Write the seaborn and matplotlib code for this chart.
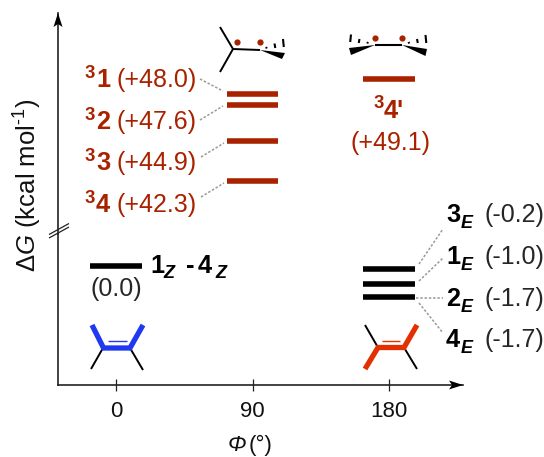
import matplotlib
matplotlib.use('Agg')
import matplotlib.pyplot as plt
import pandas as pd
import seaborn as sns

sns.set_style('white')
plt.rcParams['font.family'] = ['Liberation Sans', 'DejaVu Sans']
plt.rcParams['mathtext.fontset'] = 'custom'
plt.rcParams['mathtext.rm'] = 'Liberation Sans'
plt.rcParams['mathtext.it'] = 'Liberation Sans:italic'
plt.rcParams['mathtext.bf'] = 'Liberation Sans:bold'

# levels (kcal/mol), the axis has no scale so heights are read from the picture
triplet_phi = [90, 90, 90, 90, 180]
triplet_levels = [48.0, 47.3, 44.9, 42.2, 49.0]
ground_phi = [0, 180, 180, 180]
ground_levels = [0.0, -0.2, -1.0, -1.7]
phi_ticks = [0, 90, 180]

triplet_names = ['1', '2', '3', '4']
triplet_values = ['(+48.0)', '(+47.6)', '(+44.9)', '(+42.3)']
e_names = ['3', '1', '2', '4']
e_values = ['(-0.2)', '(-1.0)', '(-1.7)', '(-1.7)']

RED = '#a82200'
W, H = 544, 457
FS = 18


def box(left, top, right, bottom):
    return [left / W, 1 - bottom / H, (right - left) / W, (bottom - top) / H]


def levels_table(phis, levels, half=17):
    rows = []
    for i, (p, v) in enumerate(zip(phis, levels)):
        rows.append({'phi': p - half, 'dG': v, 'level': i})
        rows.append({'phi': p + half, 'dG': v, 'level': i})
    return pd.DataFrame(rows)


fig = plt.figure(figsize=(W / 100, H / 100), dpi=100)
# broken axis: two axes stacked at the break
ax_top = fig.add_axes(box(58, 13, 463, 234))
ax_low = fig.add_axes(box(58, 234, 463, 385))
for ax in (ax_top, ax_low):
    ax.set_xlim(-38.2, 228.7)
    ax.patch.set_alpha(0)
    sns.despine(ax=ax, top=True, right=True)
    ax.spines['left'].set_color('#222222')
    ax.spines['left'].set_linewidth(1.2)
ax_top.set_ylim(38.67, 53.4)
ax_low.set_ylim(-6.41, 1.70)
ax_top.spines['bottom'].set_visible(False)
ax_top.set_xticks([])
ax_top.set_yticks([])
ax_low.set_yticks([])
ax_low.spines['bottom'].set_color('#222222')
ax_low.spines['bottom'].set_linewidth(1.2)
ax_low.set_xticks(phi_ticks)
ax_low.tick_params(axis='x', bottom=True, direction='inout', length=8.6, width=0.9,
                   color='#222222', labelsize=FS - 2, pad=7, labelcolor='#111111')

sns.lineplot(data=levels_table(triplet_phi, triplet_levels), x='phi', y='dG', units='level',
             estimator=None, color=RED, linewidth=4, solid_capstyle='butt', legend=False, ax=ax_top)
sns.lineplot(data=levels_table(ground_phi, ground_levels), x='phi', y='dG', units='level',
             estimator=None, color='black', linewidth=4, solid_capstyle='butt', legend=False, ax=ax_low)
ax_top.set_xlabel('')
ax_top.set_ylabel('')
ax_low.set_xlabel('')
ax_low.set_ylabel('')

# overlay in pixels for labels, connectors and the structures
ov = fig.add_axes([0, 0, 1, 1], zorder=5)
ov.set_xlim(0, W)
ov.set_ylim(H, 0)
ov.axis('off')


def line(x0, y0, x1, y1, color='black', lw=1.4, **kw):
    ov.plot([x0, x1], [y0, y1], color=color, lw=lw, solid_capstyle='butt', **kw)


def wedge(tip, end0, end1):
    ov.fill([tip[0], end0[0], end1[0]], [tip[1], end0[1], end1[1]], color='black', lw=0)


def bold(x, y, s, size=18.3, color='black', **kw):
    ov.text(x, y, s, fontsize=size, fontweight='bold', color=color, va='baseline', **kw)


def sub(x, y, s):
    ov.text(x, y, s, fontsize=13, fontweight='bold', style='italic', color='black', va='baseline')


# axis arrows and break
ov.fill([58, 53.5, 58, 62.5], [13, 27, 24, 27], color='black', lw=0)
ov.fill([463, 449, 452, 449], [385, 380.5, 385, 389.5], color='black', lw=0)
line(49, 238, 69, 227, color='#222222', lw=0.9)
line(49, 234.5, 69, 223.5, color='#222222', lw=0.9)

ov.text(28, 272, 'Δ$\\mathit{G}$ (kcal mol$^{\\mathrm{\\text{-}1}}$)', rotation=90, fontsize=18.5,
        ha='center', va='bottom', color='#111111')
ov.text(228, 451, 'Φ', fontsize=FS - 2, style='italic', va='baseline', color='#111111')
ov.text(249, 451, '(°)', fontsize=FS - 2, va='baseline', color='#111111')

# triplet labels
for name, val, base in zip(triplet_names, triplet_values, [87, 129, 170, 212]):
    bold(85, base - 9, '3', size=13.3, color=RED)
    bold(96, base, name, color=RED)
    ov.text(116, base, val, fontsize=FS, color=RED, va='baseline')
bold(374, 108, '3', size=13.3, color=RED)
bold(384, 118, "4'", color=RED)
ov.text(390, 150, '(+49.1)', fontsize=FS, color=RED, va='baseline', ha='center')

# ground state labels
bold(150, 273, '1')
sub(163, 278, 'Z')
bold(186, 273, '-')
bold(198, 273, '4')
sub(215, 278, 'Z')
ov.text(116, 296, '(0.0)', fontsize=FS, va='baseline', ha='center')
for name, val, base in zip(e_names, e_values, [222, 264, 306, 347]):
    bold(446, base, name)
    sub(461, base + 6, 'E')
    ov.text(485, base, val, fontsize=FS, va='baseline')

# dotted connectors
dots = dict(color='#999999', lw=1.1, ls=(0, (1.6, 1.2)))
for x0, y0, x1, y1 in [(200, 79, 223, 91), (200, 120, 223, 106), (201, 157, 224, 143), (201, 197, 224, 183),
                       (419, 264, 443, 229), (419, 281, 443, 258), (416, 298, 443, 298), (419, 303, 443, 333)]:
    line(x0, y0, x1, y1, **dots)

# structure at 90
line(220, 27, 233, 49)
line(220, 72, 233, 49)
line(233, 49, 260, 50)
wedge((260, 50), (282, 59), (285, 53))
for x, y0, y1 in [(266, 47, 48.5), (274.5, 43.5, 48), (283, 39, 47)]:
    line(x, y0, x + 0.8, y1, lw=1.5)
ov.scatter([237, 260], [42, 41.5], s=20, color=RED, lw=0, zorder=3)

# structure at 180
line(375, 45, 402, 45, lw=1.5)
wedge((375, 45), (349, 48), (351, 55))
wedge((402, 45), (427, 49), (425.5, 56))
for x, y0, y1 in [(368, 42, 43.5), (359.5, 39, 43), (351, 34.5, 42)]:
    line(x, y0, x - 0.8, y1, lw=1.5)
for x, y0, y1 in [(408.5, 42, 43.5), (417, 39, 43), (425.5, 35, 43)]:
    line(x, y0, x + 0.8, y1, lw=1.5)
ov.scatter([374.5, 401.5], [38, 38], s=20, color=RED, lw=0, zorder=3)

# Z alkene
BLUE = '#2038f0'
line(103, 348, 91, 369)
line(130, 348, 143, 370)
ov.plot([92, 103.5, 130, 143], [325, 348, 348, 325], color=BLUE, lw=3.8, solid_joinstyle='miter', solid_capstyle='butt')
line(108, 341, 127, 341, color=BLUE, lw=1.0)

# E alkene
ORANGE = '#e23000'
line(365, 325, 378, 347.5)
line(404, 347.5, 417, 369)
ov.plot([365, 378, 404, 417], [369, 347.5, 347.5, 325], color=ORANGE, lw=3.8, solid_joinstyle='miter', solid_capstyle='butt')
line(382, 341, 400, 341, color=ORANGE, lw=1.0)

fig.savefig('out.png', dpi=100)
